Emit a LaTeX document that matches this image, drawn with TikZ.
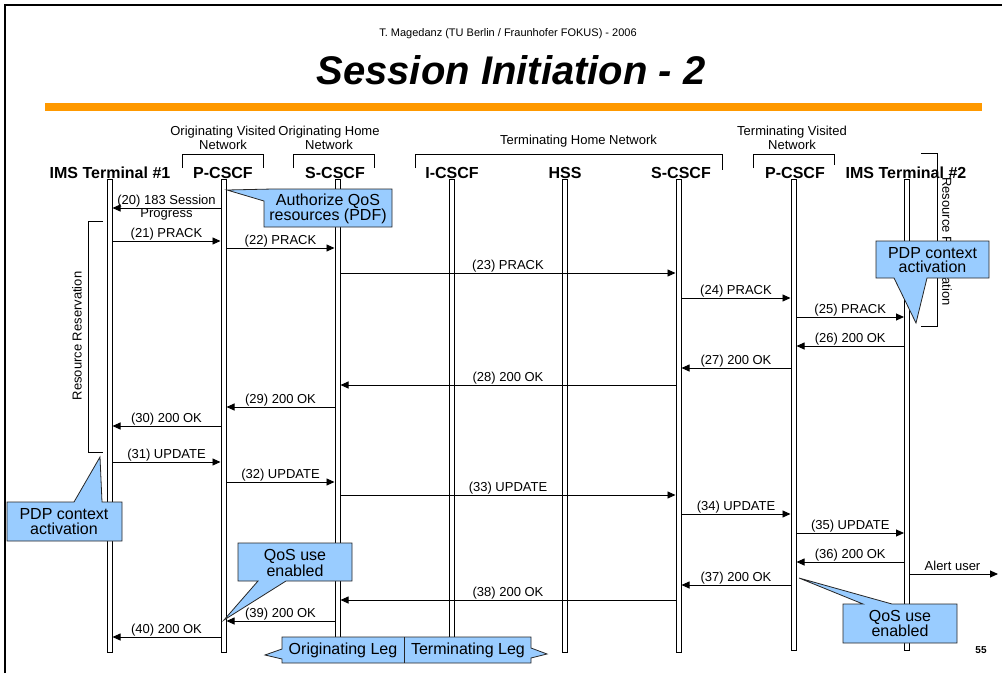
\documentclass[tikz,border=0pt]{standalone}
\usepackage{fontspec}
\setmainfont{Liberation Sans}
\usetikzlibrary{arrows.meta}
\definecolor{calloutblue}{HTML}{99CCFF}
\definecolor{barorange}{HTML}{FF9900}
\begin{document}
\begin{tikzpicture}[x=1pt,y=-1pt,
  frame/.style={line width=2.2pt, line join=miter},
  life/.style={draw=black, fill=white, line width=0.9pt, minimum width=5pt, inner sep=0pt},
  msg/.style={line width=0.9pt, shorten >=3pt, shorten <=3pt, -{Triangle[length=8pt,width=7pt]}},
  lbl/.style={font=\fontsize{13}{13}\selectfont, anchor=base, inner sep=0pt, yshift=3.5pt},
  head/.style={font=\bfseries\fontsize{16}{18}\selectfont, anchor=base, inner sep=0pt},
  net/.style={font=\fontsize{13}{14.5}\selectfont, align=center, inner sep=0pt},
  brk/.style={line width=0.9pt},
  callout/.style={fill=calloutblue, draw=black!85, line width=0.8pt, line join=miter},
  ctext/.style={font=\fontsize{16}{14.2}\selectfont, align=center, inner sep=0pt},
  rr/.style={font=\fontsize{13}{14}\selectfont, inner sep=0pt},
]
\useasboundingbox (0,0) rectangle (1002,673);
\fill[white] (0,0) rectangle (1002,673);
\draw[frame] (5,673) -- (5,5) -- (1002,5);

% header
\node[font=\fontsize{11}{12}\selectfont, anchor=base, inner sep=0pt] (author) at (508,36) {T. Magedanz (TU Berlin / Fraunhofer FOKUS) - 2006};
\node[font=\bfseries\itshape\fontsize{40}{44}\selectfont, anchor=base, inner sep=0pt] (title) at (511,84) {Session Initiation - 2};
\fill[barorange] (45,103) rectangle (982,110.5);

% network labels and brackets
\node[net] (nOV) at (223,137.6) {Originating Visited\\Network};
\node[net] (nOH) at (329,137.6) {Originating Home\\Network};
\node[net, anchor=base] (nTH) at (578.5,144.5) {Terminating Home Network};
\node[net] (nTV) at (792,137.6) {Terminating Visited\\Network};
\draw[brk] (182,168) -- (182,154) -- (263,154) -- (263,168);
\draw[brk] (293,168) -- (293,154) -- (374,154) -- (374,168);
\draw[brk] (415,168) -- (415,154) -- (722,154) -- (722,170);
\draw[brk] (753,168) -- (753,154) -- (834,154) -- (834,165);

% entity headings
\node[head] (h1) at (110,178) {IMS Terminal \#1};
\node[head] (h2) at (223,178) {P-CSCF};
\node[head] (h3) at (335,178) {S-CSCF};
\node[head] (h4) at (452,178) {I-CSCF};
\node[head] (h5) at (565,178) {HSS};
\node[head] (h6) at (681,178) {S-CSCF};
\node[head] (h7) at (795,178) {P-CSCF};
\node[head] (h8) at (906,178) {IMS Terminal \#2};

% lifelines
\node[life, minimum height=473pt] (t1)  at (109.5,415.5) {};
\node[life, minimum height=473pt] (pv)  at (223.5,415.5) {};
\node[life, minimum height=473pt] (so)  at (337.5,415.5) {};
\node[life, minimum height=473pt] (ic)  at (451.5,415.5) {};
\node[life, minimum height=473pt] (hss) at (564.5,415.5) {};
\node[life, minimum height=473pt] (st)  at (678.5,415.5) {};
\node[life, minimum height=471pt] (pt)  at (793.5,414.5) {};
\node[life, minimum height=471pt] (t2)  at (907,414.5) {};

% resource reservation brackets
\draw[brk] (103,221) -- (88,221) -- (88,452) -- (103,452);
\node[rr, rotate=90] (rrl) at (77,336) {Resource Reservation};
\draw[brk] (921,153) -- (937,153) -- (937,326) -- (921,326);
\node[rr, rotate=-90] (rrr) at (947,241.5) {Resource Reservation};

% messages
\draw[msg] (pv |- 0,208) -- (t1 |- 0,208)
  node[midway, align=center, font=\fontsize{13}{13}\selectfont, inner sep=0pt] {(20) 183 Session\\Progress};
\foreach \a/\b/\y/\t in {
  t1/pv/241/{(21) PRACK},
  pv/so/248/{(22) PRACK},
  so/st/273/{(23) PRACK},
  st/pt/298/{(24) PRACK},
  pt/t2/317/{(25) PRACK},
  t2/pt/346/{(26) 200 OK},
  pt/st/368/{(27) 200 OK},
  st/so/385/{(28) 200 OK},
  so/pv/407/{(29) 200 OK},
  pv/t1/426/{(30) 200 OK},
  t1/pv/462/{(31) UPDATE},
  pv/so/482/{(32) UPDATE},
  so/st/495/{(33) UPDATE},
  st/pt/514/{(34) UPDATE},
  pt/t2/533/{(35) UPDATE},
  t2/pt/562/{(36) 200 OK},
  pt/st/585/{(37) 200 OK},
  st/so/600/{(38) 200 OK},
  so/pv/621/{(39) 200 OK},
  pv/t1/637/{(40) 200 OK}}
  \draw[msg] (\a |- 0,\y) -- (\b |- 0,\y) node[lbl, midway] {\t};
\coordinate (alertend) at (998,574);
\draw[msg, shorten >=0pt] (t2 |- alertend) -- (alertend) node[lbl, midway] {Alert user};

% callouts
\draw[callout] (273,189) -- (392,189) -- (392,227) -- (264,227) -- (264,201) -- (227,190) -- cycle;
\node[ctext] (c1) at (328,209) {Authorize QoS\\resources (PDF)};

\draw[callout] (876,241) -- (989,241) -- (989,278) -- (927,278) -- (916,323) -- (894,278) -- (876,278) -- cycle;
\node[ctext] (c2) at (932.5,260) {PDP context\\activation};

\draw[callout] (7,502) -- (74,502) -- (100,457) -- (102,502) -- (122,502) -- (122,541) -- (7,541) -- cycle;
\node[ctext] (c3) at (64,521.5) {PDP context\\activation};

\draw[callout] (238,543) -- (352,543) -- (352,581) -- (286,581) -- (224,620) -- (258,581) -- (238,581) -- cycle;
\node[ctext] (c4) at (295,563) {QoS use\\enabled};

\draw[callout] (843,604) -- (863,604) -- (799,578) -- (892,604) -- (957,604) -- (957,643) -- (843,643) -- cycle;
\node[ctext] (c5) at (900,623.5) {QoS use\\enabled};

\draw[callout] (282,637) -- (531,637) -- (531,648) -- (547,654) -- (531,658) -- (531,663) -- (282,663) -- (282,659) -- (265,655) -- (282,649) -- cycle;
\draw[line width=0.8pt, draw=black!85] (404,637) -- (404,663);
\node[font=\fontsize{16}{18}\selectfont, anchor=base, inner sep=0pt] (legO) at (343,654) {Originating Leg};
\node[font=\fontsize{16}{18}\selectfont, anchor=base, inner sep=0pt] (legT) at (468,654) {Terminating Leg};

% page number
\node[font=\bfseries\fontsize{10}{12}\selectfont, anchor=base, inner sep=0pt] (pg) at (981,653) {55};
\end{tikzpicture}
\end{document}
